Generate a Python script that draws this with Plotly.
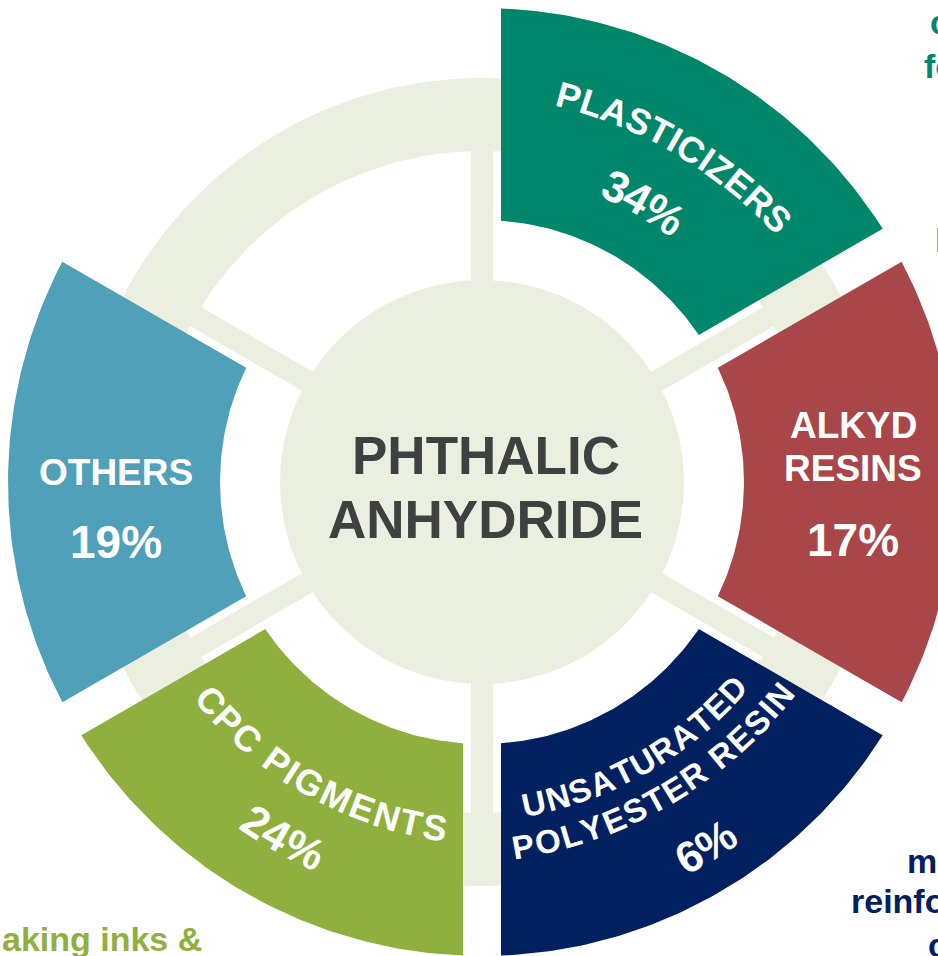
import math
import plotly.graph_objects as go

# ---------------- data ----------------
categories = ["PLASTICIZERS", "ALKYD RESINS", "UNSATURATED POLYESTER RESIN", "CPC PIGMENTS", "OTHERS"]
shares = [34, 17, 6, 24, 19]                       # percent
slots = [0, 1, 2, 3, 4]                            # 60-degree slot, clockwise from 12 o'clock
colors = ["#00866B", "#A84649", "#002060", "#8FB03E", "#4FA0B8"]
center_title = ["PHTHALIC", "ANHYDRIDE"]

# ---------------- layout constants ----------------
W, H = 938, 956
CX, CY = 482, 482
SLOT = 60
R_CENTER = 202
R_RING_IN, R_RING_OUT = 331, 404
SPOKE_HALF = 11
R_SEC_IN, R_SEC_OUT = 262, 474
GAP = 19
BEIGE = "#EAEFE0"
FONT = "Liberation Sans, Arial, sans-serif"

# Liberation Sans Bold advance widths (em)
CW = {'A': .722, 'B': .722, 'C': .722, 'D': .722, 'E': .667, 'F': .611, 'G': .778, 'H': .722,
      'I': .278, 'J': .556, 'K': .722, 'L': .611, 'M': .833, 'N': .722, 'O': .778, 'P': .667,
      'Q': .778, 'R': .722, 'S': .667, 'T': .611, 'U': .722, 'V': .667, 'W': .944, 'X': .667,
      'Y': .667, 'Z': .611, ' ': .278, '%': .889}
for d in "0123456789":
    CW[d] = .556


def pt(theta, r, cx=CX, cy=CY):
    t = math.radians(theta)
    return cx + r * math.sin(t), cy - r * math.cos(t)


def circle(r, n=360):
    xs, ys = [], []
    for i in range(n + 1):
        x, y = pt(360 * i / n, r)
        xs.append(x); ys.append(y)
    return xs, ys


fig = go.Figure()


def poly(xs, ys, color):
    fig.add_trace(go.Scatter(x=xs, y=ys, mode="lines", fill="toself", fillcolor=color,
                             line=dict(width=0, color=color), hoverinfo="skip", showlegend=False))


# background ring
xs, ys = circle(R_RING_OUT); poly(xs, ys, BEIGE)
xs, ys = circle(R_RING_IN); poly(xs, ys, "white")
# spokes
for k in range(6):
    a = k * SLOT
    tend = math.sqrt(R_RING_OUT ** 2 - SPOKE_HALF ** 2)
    corners = []
    for t, off in [(0, -SPOKE_HALF), (tend, -SPOKE_HALF), (tend, SPOKE_HALF), (0, SPOKE_HALF)]:
        x0, y0 = pt(a, t)
        ox, oy = pt(a + 90, off, 0, 0)
        corners.append((x0 + ox, y0 + oy))
    corners.append(corners[0])
    poly([c[0] for c in corners], [c[1] for c in corners], BEIGE)
# center disk
xs, ys = circle(R_CENTER); poly(xs, ys, BEIGE)

# coloured sectors
for slot, col in zip(slots, colors):
    a1, a2 = slot * SLOT, (slot + 1) * SLOT
    do = math.degrees(math.asin(GAP / R_SEC_OUT))
    di = math.degrees(math.asin(GAP / R_SEC_IN))
    xs, ys = [], []
    n = 80
    for i in range(n + 1):
        th = (a1 + do) + (a2 - a1 - 2 * do) * i / n
        x, y = pt(th, R_SEC_OUT); xs.append(x); ys.append(y)
    for i in range(n + 1):
        th = (a2 - di) - (a2 - a1 - 2 * di) * i / n
        x, y = pt(th, R_SEC_IN); xs.append(x); ys.append(y)
    xs.append(xs[0]); ys.append(ys[0])
    poly(xs, ys, col)

annotations = []


def ann(text, x, y, size, color="white", angle=0, xanchor="center", yanchor="middle"):
    annotations.append(dict(text=text, x=x, y=y, xref="x", yref="y", showarrow=False,
                            textangle=angle, xanchor=xanchor, yanchor=yanchor,
                            font=dict(family=FONT, size=size, color=color, weight="bold")))


def arc_text(text, theta, r_mid, r_arc, size, top=True, spacing=0.0):
    widths = [CW.get(c, .6) * size + spacing for c in text]
    total = sum(widths) - spacing
    acx, acy = pt(theta, r_mid - r_arc)
    s = -total / 2
    for c, w in zip(text, widths):
        mid = s + (w - spacing) / 2
        s += w
        if c == " ":
            continue
        alpha = math.degrees(mid / r_arc)
        th = theta + alpha if top else theta - alpha
        x, y = pt(th, r_arc, acx, acy)
        ang = th if top else th - 180
        ann(c, x, y, size, angle=ang)


# sector labels
pct = [f"{v}%" for v in shares]
slot_mid = [s * SLOT + SLOT / 2 for s in slots]

# Plasticizers (top, curved)
arc_text(categories[0], slot_mid[0] + 0.5, 393, 455, 36, top=True, spacing=0.7)
arc_text(pct[0], slot_mid[0], 324, 390, 44, top=True)
# Alkyd resins (straight)
ax_, ay_ = pt(slot_mid[1], 371)
ann("ALKYD", ax_, ay_ - 57, 37)
ann("RESINS", ax_, ay_ - 14, 37)
ann(pct[1], ax_, ay_ + 58, 46)
# Unsaturated polyester resin (bottom, curved)
arc_text("UNSATURATED", slot_mid[2] + 0.2, 323, 375, 33, top=False, spacing=0.6)
arc_text("POLYESTER RESIN", slot_mid[2] - 0.4, 362, 430, 33, top=False, spacing=1.2)
arc_text(pct[2], slot_mid[2] - 1.5, 428, 480, 44, top=False)
# CPC pigments (bottom, curved)
arc_text(categories[3], slot_mid[3] - 0.5, 347, 365, 36, top=False, spacing=1.3)
arc_text(pct[3], slot_mid[3] - 0.8, 408, 470, 44, top=False)
# Others (straight)
ox_, oy_ = pt(slot_mid[4], 366)
ann(categories[4], ox_, oy_ - 10, 37)
ann(pct[4], ox_, oy_ + 60, 46)

# centre title
ann(center_title[0], CX + 4, 455, 53, color="#404040")
ann(center_title[1], CX + 3, 519, 53, color="#404040")

# cropped side texts (partially outside the picture, as in the reference)
side = 34
ann("c", 928, 34 - 0.35 * side, side, color=colors[0], xanchor="left")
ann("fo", 922, 78 - 0.35 * side, side, color=colors[0], xanchor="left")
ann("l", 933, 252 - 0.35 * side, side, color=colors[0], xanchor="left")
ann("ma", 905, 873 - 0.35 * side, side, color=colors[2], xanchor="left")
ann("reinfo", 849, 913 - 0.35 * side, side, color=colors[2], xanchor="left")
ann("c", 926, 957 - 0.35 * side, side, color=colors[2], xanchor="left")
ann("aking inks &", 0, 951 - 0.35 * side, side, color=colors[3], xanchor="left")

fig.update_layout(
    width=W, height=H, margin=dict(l=0, r=0, t=0, b=0),
    paper_bgcolor="white", plot_bgcolor="white",
    xaxis=dict(range=[0, W], visible=False, fixedrange=True),
    yaxis=dict(range=[H, 0], visible=False, fixedrange=True),
    annotations=annotations, showlegend=False,
)
fig.write_html("out.html", config={"displayModeBar": False},
               post_script="document.body.style.margin='0';document.body.style.overflow='hidden';")
